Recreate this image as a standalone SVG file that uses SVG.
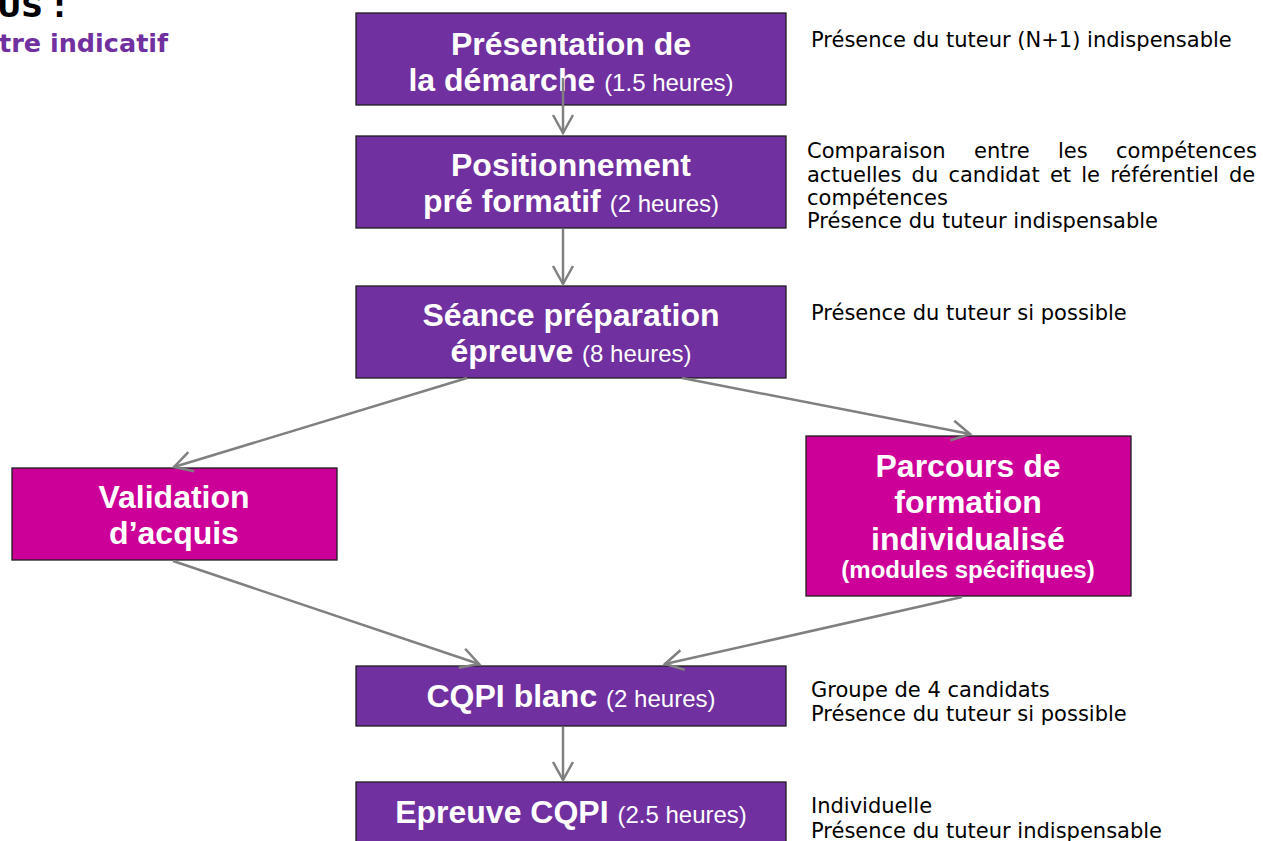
<svg xmlns="http://www.w3.org/2000/svg" width="1263" height="841" viewBox="0 0 1263 841">
  <defs>
    <style>
      .box { stroke: #1e1e1e; stroke-width: 1.3; }
      .violet { fill: #7030A0; }
      .rose { fill: #CC0099; }
      .lbl { font-family: "Liberation Sans", Arial, sans-serif; font-weight: bold; font-size: 32px; fill: #ffffff; text-anchor: middle; }
      .dur { font-weight: normal; font-size: 24px; }
      .sub { font-size: 24px; }
      .note { font-family: "DejaVu Sans", Verdana, sans-serif; font-size: 21px; fill: #000000; }
      .head { font-family: "DejaVu Sans", Verdana, sans-serif; font-weight: bold; }
      .link { fill: none; stroke: #808080; stroke-width: 2.5; marker-end: url(#chevron); }
    </style>
    <marker id="chevron" markerUnits="userSpaceOnUse" viewBox="-22 -13 26 26" refX="0" refY="0" markerWidth="26" markerHeight="26" orient="auto">
      <path d="M-18,-10 L0,0 L-18,10" fill="none" stroke="#808080" stroke-width="2.5"/>
    </marker>
  </defs>

  <rect width="1263" height="841" fill="#ffffff"/>

  <!-- page heading, partly outside the frame -->
  <g id="heading">
    <text class="head" x="-3" y="17" font-size="30" fill="#000000">US :</text>
    <text class="head" x="-1" y="52" font-size="25.5" fill="#7030A0">tre indicatif</text>
  </g>

  <g id="nodes">
    <g id="presentation">
      <rect class="box violet" x="356" y="13" width="430" height="92"/>
      <text class="lbl" x="571" y="55">Présentation de</text>
      <text class="lbl" x="571" y="91">la démarche <tspan class="dur">(1.5 heures)</tspan></text>
    </g>
    <g id="positionnement">
      <rect class="box violet" x="356" y="136" width="430" height="92"/>
      <text class="lbl" x="571" y="176">Positionnement</text>
      <text class="lbl" x="571" y="212">pré formatif <tspan class="dur">(2 heures)</tspan></text>
    </g>
    <g id="seance">
      <rect class="box violet" x="356" y="286" width="430" height="92"/>
      <text class="lbl" x="571" y="326">Séance préparation</text>
      <text class="lbl" x="571" y="362">épreuve <tspan class="dur">(8 heures)</tspan></text>
    </g>
    <g id="validation">
      <rect class="box rose" x="12" y="468" width="325" height="92"/>
      <text class="lbl" x="174" y="508">Validation</text>
      <text class="lbl" x="174" y="544">d’acquis</text>
    </g>
    <g id="parcours">
      <rect class="box rose" x="806" y="436" width="325" height="160"/>
      <text class="lbl" x="968" y="477">Parcours de</text>
      <text class="lbl" x="968" y="513">formation</text>
      <text class="lbl" x="968" y="550">individualisé</text>
      <text class="lbl sub" x="968" y="578">(modules spécifiques)</text>
    </g>
    <g id="cqpi-blanc">
      <rect class="box violet" x="356" y="666" width="430" height="60"/>
      <text class="lbl" x="571" y="707">CQPI blanc <tspan class="dur">(2 heures)</tspan></text>
    </g>
    <g id="epreuve">
      <rect class="box violet" x="356" y="782" width="430" height="70"/>
      <text class="lbl" x="571" y="823">Epreuve CQPI <tspan class="dur">(2.5 heures)</tspan></text>
    </g>
  </g>

  <g id="connectors">
    <line class="link" x1="563" y1="78" x2="563" y2="133"/>
    <line class="link" x1="563" y1="229" x2="563" y2="284"/>
    <line class="link" x1="467" y1="378" x2="174" y2="467"/>
    <line class="link" x1="682" y1="378" x2="970" y2="434"/>
    <line class="link" x1="173" y1="561" x2="479" y2="664"/>
    <line class="link" x1="962" y1="597" x2="665" y2="664"/>
    <line class="link" x1="563" y1="727" x2="563" y2="780"/>
  </g>

  <g id="notes">
    <text class="note" x="811" y="47">Présence du tuteur (N+1) indispensable</text>
    <text class="note" y="158"><tspan x="807">Comparaison</tspan><tspan x="974">entre</tspan><tspan x="1058">les</tspan><tspan x="1116">compétences</tspan></text>
    <text class="note" x="807" y="182" word-spacing="3.5">actuelles du candidat et le référentiel de</text>
    <text class="note" x="807" y="205">compétences</text>
    <text class="note" x="807" y="228">Présence du tuteur indispensable</text>
    <text class="note" x="811" y="320">Présence du tuteur si possible</text>
    <text class="note" x="811" y="697">Groupe de 4 candidats</text>
    <text class="note" x="811" y="721">Présence du tuteur si possible</text>
    <text class="note" x="811" y="813">Individuelle</text>
    <text class="note" x="811" y="838">Présence du tuteur indispensable</text>
  </g>
</svg>
